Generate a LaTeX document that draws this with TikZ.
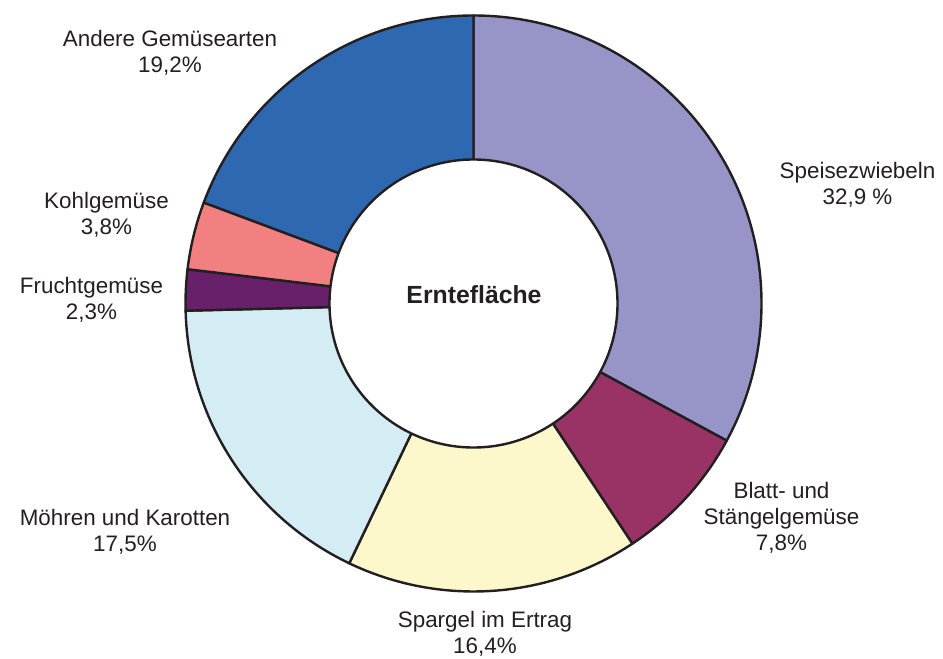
\documentclass[tikz,border=0pt]{standalone}
\usepackage{fontspec}
\setmainfont{Liberation Sans}
\usetikzlibrary{positioning}

\definecolor{zwiebel}{HTML}{9795C8}
\definecolor{blatt}{HTML}{993366}
\definecolor{spargel}{HTML}{FCF8CC}
\definecolor{moehre}{HTML}{D4ECF3}
\definecolor{frucht}{HTML}{68206A}
\definecolor{kohl}{HTML}{F38080}
\definecolor{andere}{HTML}{2E68B1}
\definecolor{ink}{HTML}{231F20}

\begin{document}
\begin{tikzpicture}[x=0.5pt, y=0.5pt,
    slice/.style = {draw=ink, line width=1.2pt, line join=round},
    lbl/.style = {align=center, inner sep=0pt, text=ink, font=\fontsize{11.2}{13}\selectfont},
    hole/.style = {draw=ink, line width=1.2pt, fill=white, circle, minimum size=144pt, inner sep=0pt}]
    \useasboundingbox (0,0) rectangle (943,659);

    % ring segments, clockwise from the top
    \coordinate (mid) at (473.5,355.5);
    \begin{scope}[shift={(mid)}]
        \foreach \a/\b/\col in {90/-28.44/zwiebel, -28.44/-56.52/blatt, -56.52/-115.56/spargel,
                                -115.56/-178.56/moehre, -178.56/-186.84/frucht,
                                -186.84/-200.52/kohl, -200.52/-270/andere}
            \filldraw[slice, fill=\col] (0,0) -- (\a:144pt) arc[start angle=\a, end angle=\b, radius=144pt] -- cycle;
    \end{scope}

    % hole in the middle
    \node[hole] (ring) at (mid) {};
    \node[font=\fontsize{12.4}{14}\selectfont\bfseries, text=ink] (title) at (474,364) {Erntefläche};

    % labels
    \node[lbl] (lzwiebel) at (857.5,474.5) {Speisezwiebeln\\32,9 \%};
    \node[lbl] (lblatt) at (781.5,141) {Blatt- und\\Stängelgemüse\\7,8\%};
    \node[lbl] (lspargel) at (485,25.5) {Spargel im Ertrag\\16,4\%};
    \node[lbl] (lmoehre) at (125,127.5) {Möhren und Karotten\\17,5\%};
    \node[lbl] (lfrucht) at (91.5,359.5) {Fruchtgemüse\\2,3\%};
    \node[lbl] (lkohl) at (106.5,444.5) {Kohlgemüse\\3,8\%};
    \node[lbl] (landere) at (170,606.5) {Andere Gemüsearten\\19,2\%};
\end{tikzpicture}
\end{document}
